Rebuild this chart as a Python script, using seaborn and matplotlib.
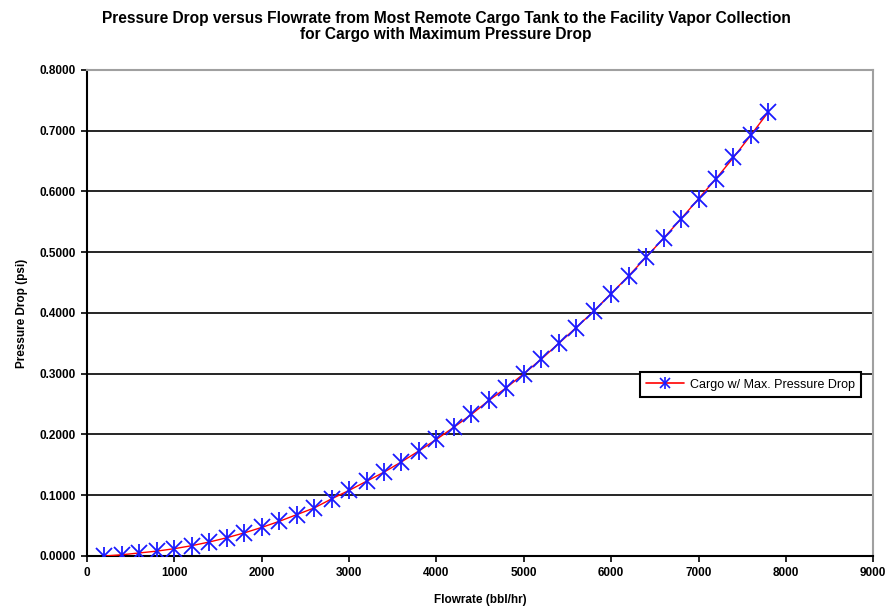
import matplotlib
matplotlib.use("Agg")
import matplotlib.pyplot as plt
import seaborn as sns
import pandas as pd
from matplotlib.lines import Line2D

flowrate = [200, 400, 600, 800, 1000, 1200, 1400, 1600, 1800, 2000,
            2200, 2400, 2600, 2800, 3000, 3200, 3400, 3600, 3800, 4000,
            4200, 4400, 4600, 4800, 5000, 5200, 5400, 5600, 5800, 6000,
            6200, 6400, 6600, 6800, 7000, 7200, 7400, 7600, 7800]
pressure_drop = [0.000, 0.002, 0.005, 0.008, 0.012, 0.017, 0.023, 0.030, 0.038, 0.047,
                 0.057, 0.068, 0.079, 0.094, 0.108, 0.123, 0.138, 0.155, 0.173, 0.192,
                 0.212, 0.233, 0.256, 0.277, 0.300, 0.324, 0.350, 0.376, 0.403, 0.432,
                 0.461, 0.492, 0.523, 0.555, 0.588, 0.621, 0.656, 0.693, 0.731]
series_label = "Cargo w/ Max. Pressure Drop"
title = ("Pressure Drop versus Flowrate from Most Remote Cargo Tank to the Facility Vapor Collection\n"
         "for Cargo with Maximum Pressure Drop")
xlabel = "Flowrate (bbl/hr)"
ylabel = "Pressure Drop (psi)"
xticks = [0, 1000, 2000, 3000, 4000, 5000, 6000, 7000, 8000, 9000]
yticks = [0.0, 0.1, 0.2, 0.3, 0.4, 0.5, 0.6, 0.7, 0.8]

df = pd.DataFrame({"x": flowrate, "y": pressure_drop})

sns.set_style("white")
plt.rcParams["font.family"] = ["Liberation Sans", "DejaVu Sans"]
plt.rcParams["text.color"] = "black"
plt.rcParams["axes.labelcolor"] = "black"
plt.rcParams["xtick.color"] = "black"
plt.rcParams["ytick.color"] = "black"

fig = plt.figure(figsize=(8.92, 6.14), dpi=100)
ax = fig.add_axes([0.0975, 0.0945, 0.8815, 0.7915])

# horizontal gridlines
for yv in yticks[1:-1]:
    ax.axhline(yv, color="black", lw=1.2, zorder=1)

sns.lineplot(data=df, x="x", y="y", ax=ax, color="red", lw=1.0, zorder=3)
ax.plot(df["x"], df["y"], ls="none", marker="x", ms=11, mec="#1a1aff", mew=1.3, zorder=4)
ax.plot(df["x"], df["y"], ls="none", marker="|", ms=13, mec="#1a1aff", mew=1.3, zorder=4)

ax.set_xlim(0, 9000)
ax.set_ylim(0, 0.8)
ax.set_xticks(xticks)
ax.set_yticks(yticks)
ax.set_xticklabels([str(v) for v in xticks])
ax.set_yticklabels([f"{v:.4f}" for v in yticks])
ax.tick_params(axis="both", direction="out", length=4, width=1.2, color="black",
               labelsize=8.5, pad=4, bottom=True, left=True)
for lab in ax.get_xticklabels() + ax.get_yticklabels():
    lab.set_fontweight("bold")

for s in ["left", "bottom"]:
    ax.spines[s].set_color("black")
    ax.spines[s].set_linewidth(1.5)
for s in ["top", "right"]:
    ax.spines[s].set_color("#a0a0a0")
    ax.spines[s].set_linewidth(1.5)

ax.set_xlabel(xlabel, fontsize=8.5, fontweight="bold", labelpad=11)
ax.set_ylabel(ylabel, fontsize=8.5, fontweight="bold", labelpad=8)
fig.suptitle(title, fontsize=11.2, fontweight="bold", y=0.982, linespacing=1.1)

h_line = Line2D([], [], color="red", lw=1.2)
h_x = Line2D([], [], ls="none", marker="x", ms=7, mec="#1a1aff", mew=1.2)
h_v = Line2D([], [], ls="none", marker="|", ms=8, mec="#1a1aff", mew=1.2)
leg = ax.legend([(h_line, h_x, h_v)], [series_label], loc="upper left",
                bbox_to_anchor=(0.7036, 0.378), fontsize=9, frameon=True,
                fancybox=False, edgecolor="black", handlelength=3.0,
                borderpad=0.5, handletextpad=0.45, borderaxespad=0)
leg.get_frame().set_linewidth(1.5)
leg.get_frame().set_facecolor("white")
leg.get_frame().set_alpha(1)

fig.savefig("out.png", dpi=100, facecolor="white")
